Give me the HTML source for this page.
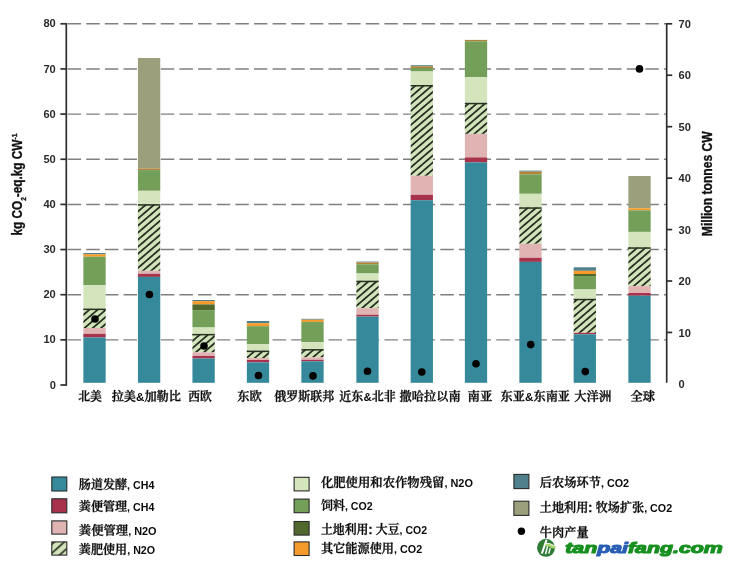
<!DOCTYPE html>
<html lang="zh"><head><meta charset="utf-8"><title>牛肉产量与排放强度</title>
<style>html,body{margin:0;padding:0;background:#fff}body{width:734px;height:568px;overflow:hidden}svg{display:block;filter:blur(0.35px)}.n{font-family:"Liberation Sans",sans-serif;font-weight:bold;font-size:11.1px;fill:#2a2a2a}.c{font-family:"Liberation Sans","Noto Serif CJK SC",serif;font-size:12px;fill:#0a0a0a;font-weight:600;stroke:#0a0a0a;stroke-width:0.3px}.c .l,.l{font-family:"Liberation Sans",sans-serif;font-weight:bold;font-size:10.6px;stroke:none}.c .a{font-family:"Liberation Sans",sans-serif;font-weight:bold;font-size:11.4px;stroke:none}.t{font-family:"Liberation Sans",sans-serif;font-weight:bold;font-size:14.3px;fill:#111;stroke:#111;stroke-width:0.35px}</style></head><body>
<svg width="734" height="568" viewBox="0 0 734 568">
<defs>
<pattern id="h" patternUnits="userSpaceOnUse" width="20" height="5.35" patternTransform="translate(85.5,327.2) rotate(-40.7)"><rect width="20" height="5.35" fill="#d2e4ba"/><rect y="-0.9" width="20" height="1.8" fill="#293023"/><rect y="4.45" width="20" height="1.8" fill="#293023"/></pattern>
</defs>
<rect width="734" height="568" fill="#fff"/>
<line x1="67.6" y1="339.85" x2="666.7" y2="339.85" stroke="#808080" stroke-width="1.45" stroke-dasharray="13.5 5.135"/>
<line x1="67.6" y1="294.70" x2="666.7" y2="294.70" stroke="#808080" stroke-width="1.45" stroke-dasharray="13.5 5.135"/>
<line x1="67.6" y1="249.55" x2="666.7" y2="249.55" stroke="#808080" stroke-width="1.45" stroke-dasharray="13.5 5.135"/>
<line x1="67.6" y1="204.40" x2="666.7" y2="204.40" stroke="#808080" stroke-width="1.45" stroke-dasharray="13.5 5.135"/>
<line x1="67.6" y1="159.25" x2="666.7" y2="159.25" stroke="#808080" stroke-width="1.45" stroke-dasharray="13.5 5.135"/>
<line x1="67.6" y1="114.10" x2="666.7" y2="114.10" stroke="#808080" stroke-width="1.45" stroke-dasharray="13.5 5.135"/>
<line x1="67.6" y1="68.95" x2="666.7" y2="68.95" stroke="#808080" stroke-width="1.45" stroke-dasharray="13.5 5.135"/>
<line x1="67.6" y1="23.80" x2="666.7" y2="23.80" stroke="#808080" stroke-width="1.45" stroke-dasharray="13.5 5.135"/>
<rect x="83.35" y="253.00" width="22.3" height="1.20" fill="#4f808c"/>
<rect x="83.35" y="254.20" width="22.3" height="2.50" fill="#f49b2c"/>
<rect x="83.35" y="256.70" width="22.3" height="28.60" fill="#749f59"/>
<rect x="83.35" y="285.30" width="22.3" height="23.50" fill="#d4e5be"/>
<rect x="83.35" y="308.80" width="22.3" height="19.20" fill="url(#h)"/>
<rect x="83.35" y="308.60" width="22.3" height="1.5" fill="#283020"/>
<rect x="83.35" y="328.00" width="22.3" height="5.80" fill="#dfb4b3"/>
<rect x="83.35" y="333.80" width="22.3" height="3.60" fill="#a8324c"/>
<rect x="83.35" y="337.40" width="22.3" height="45.40" fill="#36899a"/>
<rect x="137.95" y="58.00" width="22.3" height="110.50" fill="#9b9f7b"/>
<rect x="137.95" y="168.50" width="22.3" height="1.60" fill="#b1843a"/>
<rect x="137.95" y="170.10" width="22.3" height="20.70" fill="#749f59"/>
<rect x="137.95" y="190.80" width="22.3" height="13.60" fill="#d4e5be"/>
<rect x="137.95" y="204.40" width="22.3" height="66.40" fill="url(#h)"/>
<rect x="137.95" y="204.20" width="22.3" height="1.5" fill="#283020"/>
<rect x="137.95" y="270.80" width="22.3" height="3.00" fill="#dfb4b3"/>
<rect x="137.95" y="273.80" width="22.3" height="3.10" fill="#a8324c"/>
<rect x="137.95" y="276.90" width="22.3" height="105.90" fill="#36899a"/>
<rect x="192.45" y="300.00" width="22.3" height="1.10" fill="#4f808c"/>
<rect x="192.45" y="301.10" width="22.3" height="3.30" fill="#f49b2c"/>
<rect x="192.45" y="304.40" width="22.3" height="5.70" fill="#50682e"/>
<rect x="192.45" y="310.10" width="22.3" height="17.40" fill="#749f59"/>
<rect x="192.45" y="327.50" width="22.3" height="6.60" fill="#d4e5be"/>
<rect x="192.45" y="334.10" width="22.3" height="18.30" fill="url(#h)"/>
<rect x="192.45" y="333.90" width="22.3" height="1.5" fill="#283020"/>
<rect x="192.45" y="352.40" width="22.3" height="3.50" fill="#dfb4b3"/>
<rect x="192.45" y="355.90" width="22.3" height="2.60" fill="#a8324c"/>
<rect x="192.45" y="358.50" width="22.3" height="24.30" fill="#36899a"/>
<rect x="246.85" y="321.00" width="22.3" height="2.20" fill="#4f808c"/>
<rect x="246.85" y="323.20" width="22.3" height="3.00" fill="#f49b2c"/>
<rect x="246.85" y="326.20" width="22.3" height="18.10" fill="#749f59"/>
<rect x="246.85" y="344.30" width="22.3" height="6.50" fill="#d4e5be"/>
<rect x="246.85" y="350.80" width="22.3" height="7.20" fill="url(#h)"/>
<rect x="246.85" y="350.60" width="22.3" height="1.5" fill="#283020"/>
<rect x="246.85" y="358.00" width="22.3" height="2.00" fill="#dfb4b3"/>
<rect x="246.85" y="360.00" width="22.3" height="2.40" fill="#a8324c"/>
<rect x="246.85" y="362.40" width="22.3" height="20.40" fill="#36899a"/>
<rect x="301.35" y="318.80" width="22.3" height="0.90" fill="#4f808c"/>
<rect x="301.35" y="319.70" width="22.3" height="2.20" fill="#f49b2c"/>
<rect x="301.35" y="321.90" width="22.3" height="20.20" fill="#749f59"/>
<rect x="301.35" y="342.10" width="22.3" height="7.20" fill="#d4e5be"/>
<rect x="301.35" y="349.30" width="22.3" height="8.10" fill="url(#h)"/>
<rect x="301.35" y="349.10" width="22.3" height="1.5" fill="#283020"/>
<rect x="301.35" y="357.40" width="22.3" height="2.40" fill="#dfb4b3"/>
<rect x="301.35" y="359.80" width="22.3" height="1.50" fill="#a8324c"/>
<rect x="301.35" y="361.30" width="22.3" height="21.50" fill="#36899a"/>
<rect x="356.35" y="261.60" width="22.3" height="0.80" fill="#4f808c"/>
<rect x="356.35" y="262.40" width="22.3" height="1.90" fill="#b1843a"/>
<rect x="356.35" y="264.30" width="22.3" height="9.20" fill="#749f59"/>
<rect x="356.35" y="273.50" width="22.3" height="7.40" fill="#d4e5be"/>
<rect x="356.35" y="280.90" width="22.3" height="27.20" fill="url(#h)"/>
<rect x="356.35" y="280.70" width="22.3" height="1.5" fill="#283020"/>
<rect x="356.35" y="308.10" width="22.3" height="6.60" fill="#dfb4b3"/>
<rect x="356.35" y="314.70" width="22.3" height="1.90" fill="#a8324c"/>
<rect x="356.35" y="316.60" width="22.3" height="66.20" fill="#36899a"/>
<rect x="410.65" y="65.20" width="22.3" height="1.10" fill="#4f808c"/>
<rect x="410.65" y="66.30" width="22.3" height="1.70" fill="#b1843a"/>
<rect x="410.65" y="68.00" width="22.3" height="3.50" fill="#749f59"/>
<rect x="410.65" y="71.50" width="22.3" height="13.70" fill="#d4e5be"/>
<rect x="410.65" y="85.20" width="22.3" height="90.60" fill="url(#h)"/>
<rect x="410.65" y="85.00" width="22.3" height="1.5" fill="#283020"/>
<rect x="410.65" y="175.80" width="22.3" height="19.00" fill="#dfb4b3"/>
<rect x="410.65" y="194.80" width="22.3" height="5.40" fill="#a8324c"/>
<rect x="410.65" y="200.20" width="22.3" height="182.60" fill="#36899a"/>
<rect x="464.85" y="39.90" width="22.3" height="1.40" fill="#b1843a"/>
<rect x="464.85" y="41.30" width="22.3" height="35.90" fill="#749f59"/>
<rect x="464.85" y="77.20" width="22.3" height="25.80" fill="#d4e5be"/>
<rect x="464.85" y="103.00" width="22.3" height="30.90" fill="url(#h)"/>
<rect x="464.85" y="102.80" width="22.3" height="1.5" fill="#283020"/>
<rect x="464.85" y="133.90" width="22.3" height="23.50" fill="#dfb4b3"/>
<rect x="464.85" y="157.40" width="22.3" height="5.00" fill="#a8324c"/>
<rect x="464.85" y="162.40" width="22.3" height="220.40" fill="#36899a"/>
<rect x="519.35" y="170.60" width="22.3" height="1.00" fill="#4f808c"/>
<rect x="519.35" y="171.60" width="22.3" height="2.70" fill="#b1843a"/>
<rect x="519.35" y="174.30" width="22.3" height="19.50" fill="#749f59"/>
<rect x="519.35" y="193.80" width="22.3" height="13.70" fill="#d4e5be"/>
<rect x="519.35" y="207.50" width="22.3" height="36.30" fill="url(#h)"/>
<rect x="519.35" y="207.30" width="22.3" height="1.5" fill="#283020"/>
<rect x="519.35" y="243.80" width="22.3" height="14.00" fill="#dfb4b3"/>
<rect x="519.35" y="257.80" width="22.3" height="4.10" fill="#a8324c"/>
<rect x="519.35" y="261.90" width="22.3" height="120.90" fill="#36899a"/>
<rect x="573.65" y="267.30" width="22.3" height="3.50" fill="#4f808c"/>
<rect x="573.65" y="270.80" width="22.3" height="3.20" fill="#f49b2c"/>
<rect x="573.65" y="274.00" width="22.3" height="2.00" fill="#50682e"/>
<rect x="573.65" y="276.00" width="22.3" height="13.40" fill="#749f59"/>
<rect x="573.65" y="289.40" width="22.3" height="9.60" fill="#d4e5be"/>
<rect x="573.65" y="299.00" width="22.3" height="33.80" fill="url(#h)"/>
<rect x="573.65" y="298.80" width="22.3" height="1.5" fill="#283020"/>
<rect x="573.65" y="332.80" width="22.3" height="1.50" fill="#a8324c"/>
<rect x="573.65" y="334.30" width="22.3" height="48.50" fill="#36899a"/>
<rect x="628.35" y="176.00" width="22.3" height="32.00" fill="#9b9f7b"/>
<rect x="628.35" y="208.20" width="22.3" height="2.10" fill="#f49b2c"/>
<rect x="628.35" y="210.30" width="22.3" height="21.60" fill="#749f59"/>
<rect x="628.35" y="231.90" width="22.3" height="15.60" fill="#d4e5be"/>
<rect x="628.35" y="247.50" width="22.3" height="38.60" fill="url(#h)"/>
<rect x="628.35" y="247.30" width="22.3" height="1.5" fill="#283020"/>
<rect x="628.35" y="286.10" width="22.3" height="6.90" fill="#dfb4b3"/>
<rect x="628.35" y="293.00" width="22.3" height="2.70" fill="#a8324c"/>
<rect x="628.35" y="295.70" width="22.3" height="87.10" fill="#36899a"/>
<line x1="66.3" y1="23.1" x2="66.3" y2="385.7" stroke="#2e2e2e" stroke-width="1.7"/>
<line x1="666.7" y1="23.1" x2="666.7" y2="382.8" stroke="#2e2e2e" stroke-width="1.7"/>
<line x1="60.4" y1="385.00" x2="66.3" y2="385.00" stroke="#2e2e2e" stroke-width="1.7"/>
<text class="n" x="55.8" y="388.60" text-anchor="end">0</text>
<line x1="60.4" y1="339.85" x2="66.3" y2="339.85" stroke="#2e2e2e" stroke-width="1.7"/>
<text class="n" x="55.8" y="343.45" text-anchor="end">10</text>
<line x1="60.4" y1="294.70" x2="66.3" y2="294.70" stroke="#2e2e2e" stroke-width="1.7"/>
<text class="n" x="55.8" y="298.30" text-anchor="end">20</text>
<line x1="60.4" y1="249.55" x2="66.3" y2="249.55" stroke="#2e2e2e" stroke-width="1.7"/>
<text class="n" x="55.8" y="253.15" text-anchor="end">30</text>
<line x1="60.4" y1="204.40" x2="66.3" y2="204.40" stroke="#2e2e2e" stroke-width="1.7"/>
<text class="n" x="55.8" y="208.00" text-anchor="end">40</text>
<line x1="60.4" y1="159.25" x2="66.3" y2="159.25" stroke="#2e2e2e" stroke-width="1.7"/>
<text class="n" x="55.8" y="162.85" text-anchor="end">50</text>
<line x1="60.4" y1="114.10" x2="66.3" y2="114.10" stroke="#2e2e2e" stroke-width="1.7"/>
<text class="n" x="55.8" y="117.70" text-anchor="end">60</text>
<line x1="60.4" y1="68.95" x2="66.3" y2="68.95" stroke="#2e2e2e" stroke-width="1.7"/>
<text class="n" x="55.8" y="72.55" text-anchor="end">70</text>
<line x1="60.4" y1="23.80" x2="66.3" y2="23.80" stroke="#2e2e2e" stroke-width="1.7"/>
<text class="n" x="55.8" y="27.40" text-anchor="end">80</text>
<text class="n" x="678.5" y="388.10">0</text>
<line x1="666.7" y1="332.46" x2="672.2" y2="332.46" stroke="#2e2e2e" stroke-width="1.7"/>
<text class="n" x="678.5" y="336.66">10</text>
<line x1="666.7" y1="281.01" x2="672.2" y2="281.01" stroke="#2e2e2e" stroke-width="1.7"/>
<text class="n" x="678.5" y="285.21">20</text>
<line x1="666.7" y1="229.57" x2="672.2" y2="229.57" stroke="#2e2e2e" stroke-width="1.7"/>
<text class="n" x="678.5" y="233.77">30</text>
<line x1="666.7" y1="178.13" x2="672.2" y2="178.13" stroke="#2e2e2e" stroke-width="1.7"/>
<text class="n" x="678.5" y="182.33">40</text>
<line x1="666.7" y1="126.69" x2="672.2" y2="126.69" stroke="#2e2e2e" stroke-width="1.7"/>
<text class="n" x="678.5" y="130.89">50</text>
<line x1="666.7" y1="75.24" x2="672.2" y2="75.24" stroke="#2e2e2e" stroke-width="1.7"/>
<text class="n" x="678.5" y="79.44">60</text>
<line x1="666.7" y1="23.80" x2="672.2" y2="23.80" stroke="#2e2e2e" stroke-width="1.7"/>
<text class="n" x="678.5" y="28.00">70</text>
<circle cx="95" cy="319" r="3.8" fill="#000"/>
<circle cx="149.4" cy="294.5" r="3.8" fill="#000"/>
<circle cx="204" cy="346" r="3.8" fill="#000"/>
<circle cx="258.5" cy="375.5" r="3.8" fill="#000"/>
<circle cx="313" cy="375.9" r="3.8" fill="#000"/>
<circle cx="367.5" cy="371.2" r="3.8" fill="#000"/>
<circle cx="421.8" cy="372" r="3.8" fill="#000"/>
<circle cx="476" cy="363.8" r="3.8" fill="#000"/>
<circle cx="530.7" cy="344.6" r="3.8" fill="#000"/>
<circle cx="585.3" cy="371.6" r="3.8" fill="#000"/>
<circle cx="639.5" cy="68.9" r="3.8" fill="#000"/>
<text class="c" x="78.2" y="401.1" textLength="23.7" lengthAdjust="spacingAndGlyphs">北美</text>
<text class="c" x="111.7" y="401.1" textLength="69.3" lengthAdjust="spacingAndGlyphs">拉美<tspan class="a">&amp;</tspan>加勒比</text>
<text class="c" x="188.2" y="401.1" textLength="23.5" lengthAdjust="spacingAndGlyphs">西欧</text>
<text class="c" x="237.2" y="401.1" textLength="24.6" lengthAdjust="spacingAndGlyphs">东欧</text>
<text class="c" x="274.2" y="401.1" textLength="60.1" lengthAdjust="spacingAndGlyphs">俄罗斯联邦</text>
<text class="c" x="339.3" y="401.1" textLength="56.5" lengthAdjust="spacingAndGlyphs">近东<tspan class="a">&amp;</tspan>北非</text>
<text class="c" x="399.6" y="401.1" textLength="61.0" lengthAdjust="spacingAndGlyphs">撒哈拉以南</text>
<text class="c" x="467.5" y="401.1" textLength="24.8" lengthAdjust="spacingAndGlyphs">南亚</text>
<text class="c" x="500.6" y="401.1" textLength="69.5" lengthAdjust="spacingAndGlyphs">东亚<tspan class="a">&amp;</tspan>东南亚</text>
<text class="c" x="574.3" y="401.1" textLength="37.0" lengthAdjust="spacingAndGlyphs">大洋洲</text>
<text class="c" x="630.4" y="401.1" textLength="24.8" lengthAdjust="spacingAndGlyphs">全球</text>
<text class="t" transform="translate(22.4,235.6) rotate(-90)" textLength="102" lengthAdjust="spacingAndGlyphs">kg CO<tspan font-size="8" dy="3.6">2</tspan><tspan dy="-3.6">-eq.kg CW</tspan><tspan font-size="8" dy="-5.4">-1</tspan></text>
<text class="t" transform="translate(712.3,236.2) rotate(-90)" textLength="105" lengthAdjust="spacingAndGlyphs">Million tonnes CW</text>
<defs><pattern id="h2" patternUnits="userSpaceOnUse" width="20" height="6.6" patternTransform="translate(51,541) rotate(-42)"><rect width="20" height="6.6" fill="#d2e4ba"/><rect y="2.2" width="20" height="1.7" fill="#293023"/></pattern></defs>
<rect x="51.8" y="477.0" width="15" height="14" fill="#36899a" stroke="#2a2a2a" stroke-width="1.1"/>
<text class="c" x="78.8" y="488.6" textLength="75.6" lengthAdjust="spacingAndGlyphs">肠道发酵<tspan class="l">, CH4</tspan></text>
<rect x="51.8" y="498.8" width="15" height="14" fill="#a8324c" stroke="#2a2a2a" stroke-width="1.1"/>
<text class="c" x="78.8" y="511.4" textLength="75.6" lengthAdjust="spacingAndGlyphs">粪便管理<tspan class="l">, CH4</tspan></text>
<rect x="51.8" y="520.9" width="15" height="13.2" fill="#dfb4b3" stroke="#2a2a2a" stroke-width="1.1"/>
<text class="c" x="78.8" y="535.0" textLength="77.8" lengthAdjust="spacingAndGlyphs">粪便管理<tspan class="l">, N2O</tspan></text>
<rect x="51.8" y="541.9" width="15" height="13.2" fill="url(#h2)" stroke="#2a2a2a" stroke-width="1.1"/>
<text class="c" x="78.8" y="554.0" textLength="76.3" lengthAdjust="spacingAndGlyphs">粪肥使用<tspan class="l">, N2O</tspan></text>
<rect x="294.1" y="477.3" width="15" height="13.6" fill="#d4e5be" stroke="#2a2a2a" stroke-width="1.1"/>
<text class="c" x="320.9" y="487.4" textLength="152.0" lengthAdjust="spacingAndGlyphs">化肥使用和农作物残留<tspan class="l">, N2O</tspan></text>
<rect x="294.1" y="499.1" width="15" height="13.6" fill="#749f59" stroke="#2a2a2a" stroke-width="1.1"/>
<text class="c" x="320.9" y="510.4" textLength="51.7" lengthAdjust="spacingAndGlyphs">饲料<tspan class="l">, CO2</tspan></text>
<rect x="294.1" y="521.5" width="15" height="13.6" fill="#50682e" stroke="#2a2a2a" stroke-width="1.1"/>
<text class="c" x="320.9" y="533.8" textLength="106.1" lengthAdjust="spacingAndGlyphs">土地利用: 大豆<tspan class="l">, CO2</tspan></text>
<rect x="294.1" y="541.9" width="15" height="13.6" fill="#f49b2c" stroke="#2a2a2a" stroke-width="1.1"/>
<text class="c" x="320.9" y="553.4" textLength="101.3" lengthAdjust="spacingAndGlyphs">其它能源使用<tspan class="l">, CO2</tspan></text>
<rect x="513.9" y="474.4" width="15" height="14.2" fill="#4f808c" stroke="#2a2a2a" stroke-width="1.1"/>
<text class="c" x="539.8" y="486.9" textLength="89.3" lengthAdjust="spacingAndGlyphs">后农场环节<tspan class="l">, CO2</tspan></text>
<rect x="513.9" y="501.2" width="15" height="14.2" fill="#9b9f7b" stroke="#2a2a2a" stroke-width="1.1"/>
<text class="c" x="539.8" y="512.4" textLength="132.3" lengthAdjust="spacingAndGlyphs">土地利用: 牧场扩张<tspan class="l">, CO2</tspan></text>
<circle cx="521.4" cy="531.3" r="3.7" fill="#000"/>
<text class="c" x="539.8" y="537.0" textLength="48.8" lengthAdjust="spacingAndGlyphs">牛肉产量<tspan class="l"></tspan></text>
<g>
<circle cx="546" cy="547.8" r="9" fill="#2e7b36"/>
<path d="M540.8 553.4 L545.6 539.5 L547.6 539.9 L542.9 553.8 Z" fill="#fff"/>
<path d="M544.8 554.0 L546.9 546.0 L548.3 546.2 L546.3 554.2 Z" fill="#fff"/>
<path d="M548.1 553.6 L549.6 548.0 L550.9 548.2 L549.5 553.7 Z" fill="#fff"/>
<path d="M545.8 543.6 Q549.5 542.8 552.0 544.6 Q553.8 545.8 555.6 545.4 L555.4 548.4 Q552.6 549.0 550.4 547.4 Q548.2 545.8 545.2 546.2 Z" fill="#a9d66c"/>
<path d="M545.8 543.6 Q549.5 542.8 552.0 544.6 Q553.8 545.8 555.6 545.4" fill="none" stroke="#fff" stroke-width="0.9"/>
<text x="565.2" y="552.8" textLength="157.6" lengthAdjust="spacingAndGlyphs" font-family="'Liberation Sans',sans-serif" font-weight="bold" font-style="italic" font-size="14.6" fill="#17901f" stroke="#17901f" stroke-width="1.1" stroke-linejoin="round">tan<tspan fill="#2a5fb4" stroke="#2a5fb4">pai</tspan>fang.com</text>
</g>
</svg></body></html>
